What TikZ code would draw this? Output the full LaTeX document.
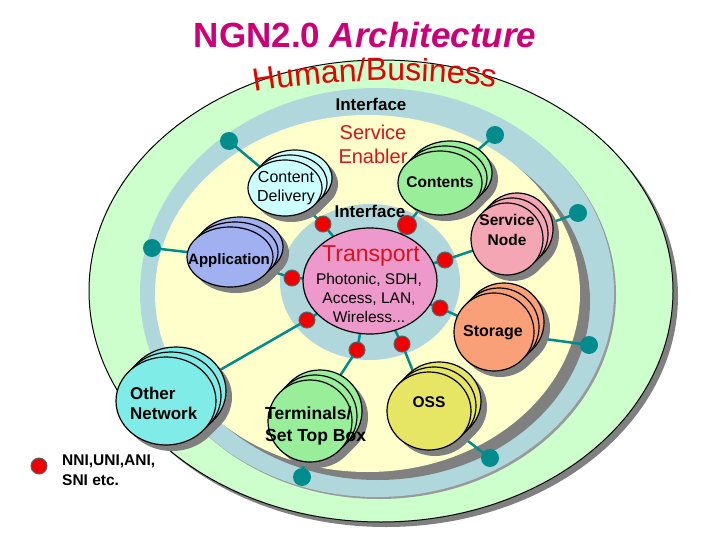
\documentclass[tikz,border=0pt]{standalone}
\usepackage{fontspec}
\setmainfont{Liberation Sans}
\usetikzlibrary{shapes.geometric,decorations.text}
\pgfdeclarelayer{back}
\pgfdeclarelayer{lines}
\pgfsetlayers{back,lines,main}
\definecolor{ngnGreen}{RGB}{204,255,204}
\definecolor{ngnBlue}{RGB}{176,216,220}
\definecolor{ngnYellow}{RGB}{255,255,204}
\definecolor{ngnShadow}{RGB}{128,128,128}
\definecolor{ngnTeal}{RGB}{0,140,140}
\definecolor{ngnRed}{RGB}{240,0,0}
\definecolor{ngnDotEdge}{RGB}{70,110,110}
\definecolor{ngnMagenta}{RGB}{204,0,119}
\definecolor{ngnTitleRed}{RGB}{230,0,0}
\definecolor{ngnTextRed}{RGB}{214,20,30}
\definecolor{cPink}{RGB}{238,153,204}
\definecolor{cCD}{RGB}{204,255,255}
\definecolor{cApp}{RGB}{160,176,240}
\definecolor{cGreen}{RGB}{153,238,153}
\definecolor{cSN}{RGB}{244,166,180}
\definecolor{cSto}{RGB}{250,160,120}
\definecolor{cOSS}{RGB}{230,230,100}
\definecolor{cOther}{RGB}{128,236,232}
\newcommand{\ngnstack}[5]{%
  \fill[ngnShadow] ({#1+16},{#2-4}) ellipse [x radius=#3, y radius=#4];
  \fill[ngnShadow] ({#1+11},{#2+1}) ellipse [x radius=#3, y radius=#4];
  \fill[ngnShadow] ({#1+6},{#2+6}) ellipse [x radius=#3, y radius=#4];
  \filldraw[fill=#5, draw=black, line width=1.2pt] ({#1+10},{#2-10}) ellipse [x radius=#3, y radius=#4];
  \filldraw[fill=#5, draw=black, line width=1.2pt] ({#1+5},{#2-5}) ellipse [x radius=#3, y radius=#4];
}
\begin{document}
\begin{tikzpicture}[x=1pt,y=-1pt,
  comp/.style={ellipse, draw=black, line width=1.2pt, inner sep=0pt},
  conn/.style={draw=ngnTeal, line width=2.5pt},
  tdot/.style={circle, fill=ngnTeal, inner sep=0pt, minimum size=18pt},
  rdot/.style={circle, fill=ngnRed, draw=ngnDotEdge, line width=1pt, inner sep=0pt, minimum size=16pt},
  lblB/.style={font=\fontsize{17}{20}\selectfont\bfseries, inner sep=0pt},
  compT/.style={font=\fontsize{15.5}{19}\selectfont\bfseries, align=center, inner sep=0pt},
]
\useasboundingbox (0,0) rectangle (720,540);

\begin{pgfonlayer}{back}
  \fill[white] (0,0) rectangle (720,540);
  \fill[ngnShadow] (386,296) ellipse [x radius=292, y radius=231];
  \filldraw[fill=ngnGreen, draw=black, line width=1pt] (381,291) ellipse [x radius=292, y radius=231];
  \fill[ngnShadow!80] (379,294.5) ellipse [x radius=237, y radius=204.5];
  \fill[ngnBlue] (377,292.5) ellipse [x radius=237, y radius=204.5];
  \fill[ngnShadow] (377.5,301.5) ellipse [x radius=212.5, y radius=178.5];
  \fill[ngnYellow] (367.5,293.5) ellipse [x radius=212.5, y radius=178.5];
  \fill[ngnBlue] (370,282) ellipse [x radius=90, y radius=78];
\end{pgfonlayer}

% title
\node[anchor=base, inner sep=0pt, text=ngnMagenta, font=\fontsize{35}{35}\selectfont\bfseries] (title) at (365,48) {NGN2.0 \itshape Architecture};
\path[decorate, decoration={text along path, text={|\fontsize{32}{32}\selectfont\color{ngnTitleRed}|Human/Business}, text align=center}]
  (243,94) .. controls (330,78) and (430,76) .. (507,90);

% ring labels
\node[lblB] (ifOut) at (371,104) {Interface};
\node[inner sep=0pt, align=center, text=ngnTextRed, font=\fontsize{20}{24}\selectfont] (senab) at (373,144) {Service\\Enabler};
\node[lblB] (ifIn) at (370,211) {Interface};

% transport
\node[ellipse, draw=black, line width=1.2pt, fill=cPink, inner sep=0pt, minimum width=134pt, minimum height=106pt] (tp) at (370,281) {};
\node[inner sep=0pt, text=ngnTextRed, font=\fontsize{23}{23}\selectfont] (tpT) at (371,256) {Transport};
\node[inner sep=0pt, align=center, font=\fontsize{15.5}{19}\selectfont] (tpS) at (369,298) {Photonic, SDH,\\Access, LAN,\\Wireless...};

% components
\ngnstack{285}{188}{37}{28}{cCD}
\node[comp, fill=cCD, minimum width=74pt, minimum height=56pt] (cd) at (285,188) {};
\node[inner sep=0pt, align=center, font=\fontsize{16}{19}\selectfont] (cdT) at (286,188) {Content\\Delivery};

\ngnstack{230}{257}{43}{30}{cApp}
\node[comp, fill=cApp, minimum width=86pt, minimum height=60pt] (app) at (230,257) {};
\node[compT, font=\fontsize{15}{18}\selectfont\bfseries] (appT) at (229,261) {Application};

\ngnstack{440}{183}{42}{32}{cGreen}
\node[comp, fill=cGreen, minimum width=84pt, minimum height=64pt] (cont) at (440,183) {};
\node[compT] (contT) at (440,182) {Contents};

\ngnstack{507}{239}{36}{36}{cSN}
\node[comp, fill=cSN, minimum width=72pt, minimum height=72pt] (sn) at (507,239) {};
\node[compT, font=\fontsize{15.5}{20}\selectfont\bfseries] (snT) at (507,230) {Service\\Node};

\ngnstack{494}{332}{40}{39}{cSto}
\node[comp, fill=cSto, minimum width=80pt, minimum height=78pt] (sto) at (494,332) {};
\node[compT, font=\fontsize{16}{19}\selectfont\bfseries] (stoT) at (493,333) {Storage};

\ngnstack{429}{411}{42}{39}{cOSS}
\node[comp, fill=cOSS, minimum width=84pt, minimum height=78pt] (oss) at (429,411) {};
\node[compT] (ossT) at (429,402) {OSS};

\ngnstack{310}{421}{42}{41}{cGreen}
\node[comp, fill=cGreen, minimum width=84pt, minimum height=82pt] (term) at (310,421) {};
\node[inner sep=0pt, anchor=west, align=left, font=\fontsize{17.5}{22}\selectfont\bfseries] (termT) at (265,426) {Terminals/\\Set Top Box};

\ngnstack{166}{401}{50}{44}{cOther}
\node[comp, fill=cOther, minimum width=100pt, minimum height=88pt] (oth) at (166,401) {};
\node[inner sep=0pt, anchor=west, align=left, font=\fontsize{17}{20}\selectfont\bfseries] (othT) at (130,403) {Other\\Network};

% outer interface points
\node[tdot] (t1) at (229,141) {};
\node[tdot] (t2) at (152,248) {};
\node[tdot] (t3) at (495,135) {};
\node[tdot] (t4) at (578,213) {};
\node[tdot] (t5) at (589,345) {};
\node[tdot] (t6) at (490,458) {};
\node[tdot] (t7) at (302,477) {};

% inner interface points
\node[rdot] (r1) at (323,224) {};
\node[rdot, minimum size=19pt] (r2) at (407,225) {};
\node[rdot] (r3) at (445,260) {};
\node[rdot] (r4) at (292,278) {};
\node[rdot] (r5) at (440,308) {};
\node[rdot] (r6) at (307,320) {};
\node[rdot] (r7) at (357,350) {};
\node[rdot] (r8) at (402,344) {};

% legend
\node[rdot] (lg) at (39,466) {};
\node[inner sep=0pt, anchor=west, align=left, font=\fontsize{15.5}{20}\selectfont\bfseries] (lgT) at (62,470) {NNI,UNI,ANI,\\SNI etc.};

\begin{pgfonlayer}{lines}
  \draw[conn] (t1.center) -- (cd.center);
  \draw[conn] (t2.center) -- (app.center);
  \draw[conn] (t3.center) -- (cont.center);
  \draw[conn] (t4.center) -- (sn.center);
  \draw[conn] (t5.center) -- (sto.center);
  \draw[conn] (t6.center) -- (oss.center);
  \draw[conn] (t7.center) -- (term.center);
  \draw[conn] (tp.center) -- (r1.center) -- (cd.center);
  \draw[conn] (tp.center) -- (r2.center) -- (cont.center);
  \draw[conn] (tp.center) -- (r3.center) -- (sn.center);
  \draw[conn] (tp.center) -- (r4.center) -- (app.center);
  \draw[conn] (tp.center) -- (r5.center) -- (sto.center);
  \draw[conn] (tp.center) -- (r6.center) -- (oth.center);
  \draw[conn] (tp.center) -- (r7.center) -- (term.center);
  \draw[conn] (tp.center) -- (r8.center) -- (oss.center);
\end{pgfonlayer}
\end{tikzpicture}
\end{document}
